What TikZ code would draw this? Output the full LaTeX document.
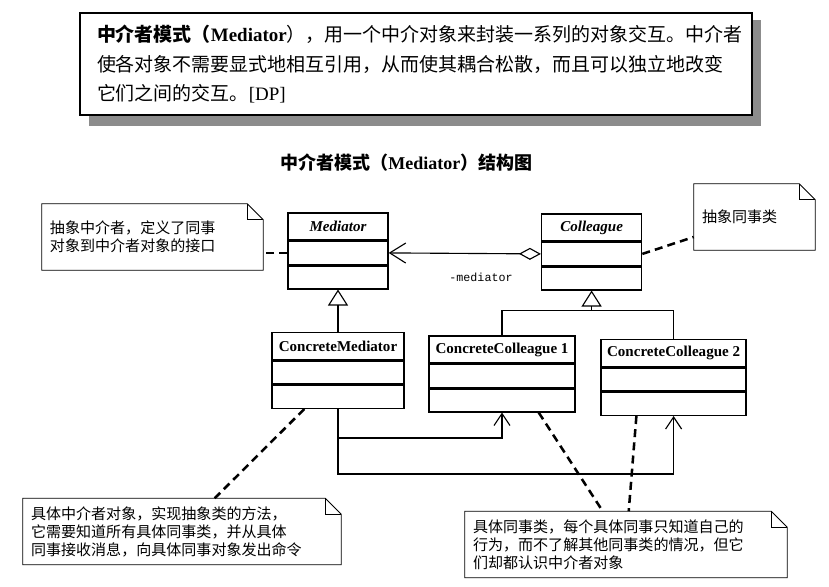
\documentclass[tikz,border=0pt]{standalone}
\usepackage{fontspec}
\setmainfont{Liberation Serif}
\setmonofont{Liberation Mono}
\newfontfamily\cjk{Noto Sans CJK SC}
\usetikzlibrary{arrows.meta, positioning, calc, backgrounds}
\definecolor{shadowgray}{HTML}{8C8C8C}

% note outline with a folded corner
\newcommand{\foldnote}[1]{%
  \draw[notebox] (#1.north west) -- ([xshift=-0.4cm]#1.north east) -- ([yshift=-0.4cm]#1.north east) -- (#1.south east) -- (#1.south west) -- cycle;
  \draw[notebox] ([xshift=-0.4cm]#1.north east) |- ([yshift=-0.4cm]#1.north east);
}

\begin{document}
\begin{tikzpicture}[
  every node/.style={inner sep=0pt},
  defbox/.style={draw, line width=1.2pt, fill=white, minimum width=16.8cm, minimum height=2.55cm, text width=15.95cm, align=left, font=\fontsize{13.5}{21}\selectfont},
  clsname/.style={draw, line width=1pt, minimum width=#1, minimum height=0.675cm, font=\fontsize{10.7}{13}\selectfont\bfseries},
  clspart/.style={draw, line width=1pt, minimum width=#1, minimum height=0.575cm},
  note/.style={align=left, inner xsep=0.2cm, text width=#1, minimum height=1.65cm, font={\cjk\fontsize{10.7}{12.8}\selectfont}},
  notebox/.style={line width=0.6pt},
  notelink/.style={line width=1.8pt, dash pattern=on 0.2cm off 0.13cm},
  inherit/.style={-{Triangle[open, length=0.4cm, width=0.5cm]}, line width=0.8pt},
  assoc/.style={-{Straight Barb[length=0.3cm, width=0.4cm]}, line width=0.8pt},
]
\useasboundingbox (0,0) rectangle (20.725,-14.65);

% Definition box
\node[defbox] (defn) at (10.4,-1.6) {%
{\cjk\bfseries 中介者模式（}\textbf{Mediator}{\cjk ），用一个中介对象来封装一系列的对象交互。中介者}\\
{\cjk 使各对象不需要显式地相互引用，从而使其耦合松散，而且可以独立地改变}\\
{\cjk 它们之间的交互。}[DP]};
\begin{scope}[on background layer]
  \fill[shadowgray] ([shift={(0.25,-0.25)}]defn.south west) rectangle ([shift={(0.2,-0.2)}]defn.north east);
\end{scope}

% Title
\node[font=\fontsize{12.8}{15}\selectfont\bfseries] (title) at (10.16,-4.075) {{\cjk 中介者模式（}Mediator{\cjk ）结构图}};

% Mediator
\node[clsname=2.5cm, font=\fontsize{10.7}{13}\selectfont\bfseries\itshape] (med) at (8.45,-5.6625) {Mediator};
\node[clspart=2.5cm, below=0pt of med] (medA) {};
\node[clspart=2.5cm, below=0pt of medA] (medO) {};

% Colleague
\node[clsname=2.5cm, font=\fontsize{10.7}{13}\selectfont\bfseries\itshape] (col) at (14.79,-5.6875) {Colleague};
\node[clspart=2.5cm, below=0pt of col] (colA) {};
\node[clspart=2.5cm, below=0pt of colA] (colO) {};

% ConcreteMediator
\node[clsname=3.3cm] (cmed) at (8.45,-8.65) {ConcreteMediator};
\node[clspart=3.3cm, below=0pt of cmed] (cmedA) {};
\node[clspart=3.3cm, below=0pt of cmedA] (cmedO) {};

% ConcreteColleague 1
\node[clsname=3.65cm] (cc1) at (12.55,-8.7375) {ConcreteColleague 1};
\node[clspart=3.65cm, below=0pt of cc1] (cc1A) {};
\node[clspart=3.65cm, below=0pt of cc1A] (cc1O) {};

% ConcreteColleague 2
\node[clsname=3.625cm] (cc2) at (16.84,-8.825) {ConcreteColleague 2};
\node[clspart=3.625cm, below=0pt of cc2] (cc2A) {};
\node[clspart=3.625cm, below=0pt of cc2A] (cc2O) {};

% Notes
\node[note=5.125cm] (noteMed) at (3.8125,-5.925) {抽象中介者，定义了同事\\对象到中介者对象的接口};
\node[note=2.625cm] (noteCol) at (18.8625,-5.425) {抽象同事类};
\node[note=7.55cm] (noteCMed) at (4.55,-13.2875) {具体中介者对象，实现抽象类的方法，\\它需要知道所有具体同事类，并从具体\\同事接收消息，向具体同事对象发出命令};
\node[note=7.65cm] (noteCCol) at (15.65,-13.6125) {具体同事类，每个具体同事只知道自己的\\行为，而不了解其他同事类的情况，但它\\们却都认识中介者对象};
\foldnote{noteMed}
\foldnote{noteCol}
\foldnote{noteCMed}
\foldnote{noteCCol}

% Aggregation
\draw[{Straight Barb[length=0.4cm, width=0.5cm]}-{Diamond[open, length=0.55cm, width=0.3cm]}, line width=0.8pt] (medA.east) -- (colA.west);
\node[font=\ttfamily\fontsize{8.3}{10}\selectfont] (role) at (12.025,-6.925) {-mediator};

% Generalizations
\draw[inherit] (cmed.north) -- (medO.south);
\coordinate (cjoin) at ($(colO.south)+(0,-0.5)$);
\draw[line width=0.8pt] (cc1.north) |- (cjoin) -| (cc2.north);
\draw[inherit] (cjoin) -- (colO.south);

% Associations
\draw[assoc] (cmedO.south) -- ++(0,-0.725) -| (cc1O.south);
\draw[assoc] (cmedO.south) -- ++(0,-1.625) -| (cc2O.south);

% Note links
\draw[notelink] (medA.west) -- (medA.west -| noteMed.east);
\draw[notelink] (colA.east) -- ([yshift=-0.5cm]noteCol.west);
\draw[notelink] ([xshift=0.825cm]cmedO.south west) -- ([xshift=4.8cm]noteCMed.north west);
\draw[notelink] ([xshift=-0.925cm]cc1O.south east) -- ([xshift=3.45cm]noteCCol.north west);
\draw[notelink] ([xshift=0.9cm]cc2O.south west) -- ([xshift=4.1cm]noteCCol.north west);

\end{tikzpicture}
\end{document}
